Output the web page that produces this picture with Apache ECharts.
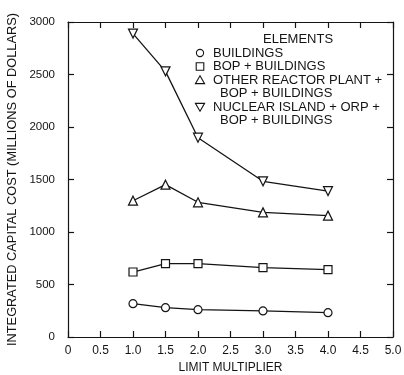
<!DOCTYPE html>
<html><head><meta charset="utf-8">
<script src="https://cdn.jsdelivr.net/npm/echarts@6/dist/echarts.min.js"></script>
<style>html,body{margin:0;padding:0;background:#fff}#c{width:404px;height:375px}</style>
</head><body><div id="c"></div>
<script>
const limitMultiplier = [1.0, 1.5, 2.0, 3.0, 4.0];
const buildings = [317, 279, 260, 248, 232];
const bopBuildings = [619, 698, 698, 660, 641];
const otherReactorPlant = [1298, 1451, 1283, 1187, 1156];
const nuclearIsland = [2890, 2530, 1898, 1483, 1390];
const seriesNames = ['BUILDINGS', 'BOP + BUILDINGS', 'OTHER REACTOR PLANT + BOP + BUILDINGS', 'NUCLEAR ISLAND + ORP + BOP + BUILDINGS'];
const legendLines = [
  ['BUILDINGS'],
  ['BOP + BUILDINGS'],
  ['OTHER REACTOR PLANT +', 'BOP + BUILDINGS'],
  ['NUCLEAR ISLAND + ORP +', 'BOP + BUILDINGS']
];
const FONT = "'Liberation Sans', Arial, Helvetica, sans-serif";
const INK = '#141414';

const chart = echarts.init(document.getElementById('c'), null, {renderer: 'canvas'});
const pair = arr => limitMultiplier.map((x, i) => [x, arr[i]]);
const symbols = ['circle', 'rect', 'triangle', 'triangle'];
const rotations = [0, 0, 0, 180];
const sizes = [8, 8, 9, 9];
const dataSets = [buildings, bopBuildings, otherReactorPlant, nuclearIsland];

const axisCommon = {
  axisLine: {show: true, onZero: false, lineStyle: {color: INK, width: 1.2}},
  axisTick: {show: true, inside: true, length: 6, lineStyle: {color: INK, width: 1.2}},
  splitLine: {show: false}
};

const legendGraphic = [];
legendGraphic.push({type: 'text', x: 263, y: 39, style: {text: 'ELEMENTS', font: '13px ' + FONT, fill: INK, verticalAlign: 'middle'}});
let y = 53;
legendLines.forEach((lines, i) => {
  const cx = 200;
  let shape;
  if (i === 0) shape = {type: 'circle', shape: {cx: cx, cy: y, r: 3.6}};
  else if (i === 1) shape = {type: 'rect', shape: {x: cx - 3.8, y: y - 3.8, width: 7.6, height: 7.6}};
  else if (i === 2) shape = {type: 'polygon', shape: {points: [[cx, y - 4.2], [cx + 4.6, y + 3.6], [cx - 4.6, y + 3.6]]}};
  else shape = {type: 'polygon', shape: {points: [[cx, y + 4.2], [cx + 4.6, y - 3.6], [cx - 4.6, y - 3.6]]}};
  shape.style = {fill: '#fff', stroke: INK, lineWidth: 1.1};
  legendGraphic.push(shape);
  lines.forEach((t, j) => {
    legendGraphic.push({type: 'text', x: j === 0 ? 213 : 220, y: y, style: {text: t, font: '13px ' + FONT, fill: INK, verticalAlign: 'middle'}});
    y += 13.5;
  });
});

chart.setOption({
  animation: false,
  backgroundColor: '#fff',
  grid: {left: 68, right: 11, top: 22, bottom: 38, containLabel: false, outerBoundsMode: 'none'},
  xAxis: [
    Object.assign({}, axisCommon, {
      type: 'value', position: 'bottom', min: 0, max: 5, interval: 0.5,
      name: 'LIMIT MULTIPLIER', nameLocation: 'middle', nameGap: 24,
      nameTextStyle: {color: INK, fontSize: 12, fontFamily: FONT},
      axisLabel: {color: INK, fontSize: 12, fontFamily: FONT, margin: 8,
        formatter: v => v === 0 ? '0' : v.toFixed(1)}
    }),
    Object.assign({}, axisCommon, {
      type: 'value', position: 'top', min: 0, max: 5, interval: 0.5,
      axisLabel: {show: false}
    })
  ],
  yAxis: [
    Object.assign({}, axisCommon, {
      type: 'value', position: 'left', min: 0, max: 3000, interval: 500,
      name: 'INTEGRATED CAPITAL COST (MILLIONS OF DOLLARS)', nameLocation: 'middle', nameGap: 39,
      nameTextStyle: {color: INK, fontSize: 12.8, fontFamily: FONT},
      axisLabel: {color: INK, fontSize: 11.5, fontFamily: FONT, margin: 13, formatter: v => String(v)}
    }),
    Object.assign({}, axisCommon, {
      type: 'value', position: 'right', min: 0, max: 3000, interval: 500,
      axisLabel: {show: false}
    })
  ],
  legend: {show: false},
  graphic: legendGraphic,
  series: dataSets.map((d, i) => ({
    name: seriesNames[i],
    type: 'line',
    data: pair(d),
    symbol: symbols[i],
    symbolRotate: rotations[i],
    symbolSize: sizes[i],
    showAllSymbol: true,
    lineStyle: {color: INK, width: 1.3},
    itemStyle: {color: '#fff', borderColor: INK, borderWidth: 1.2},
    z: 3
  }))
});
</script></body></html>
